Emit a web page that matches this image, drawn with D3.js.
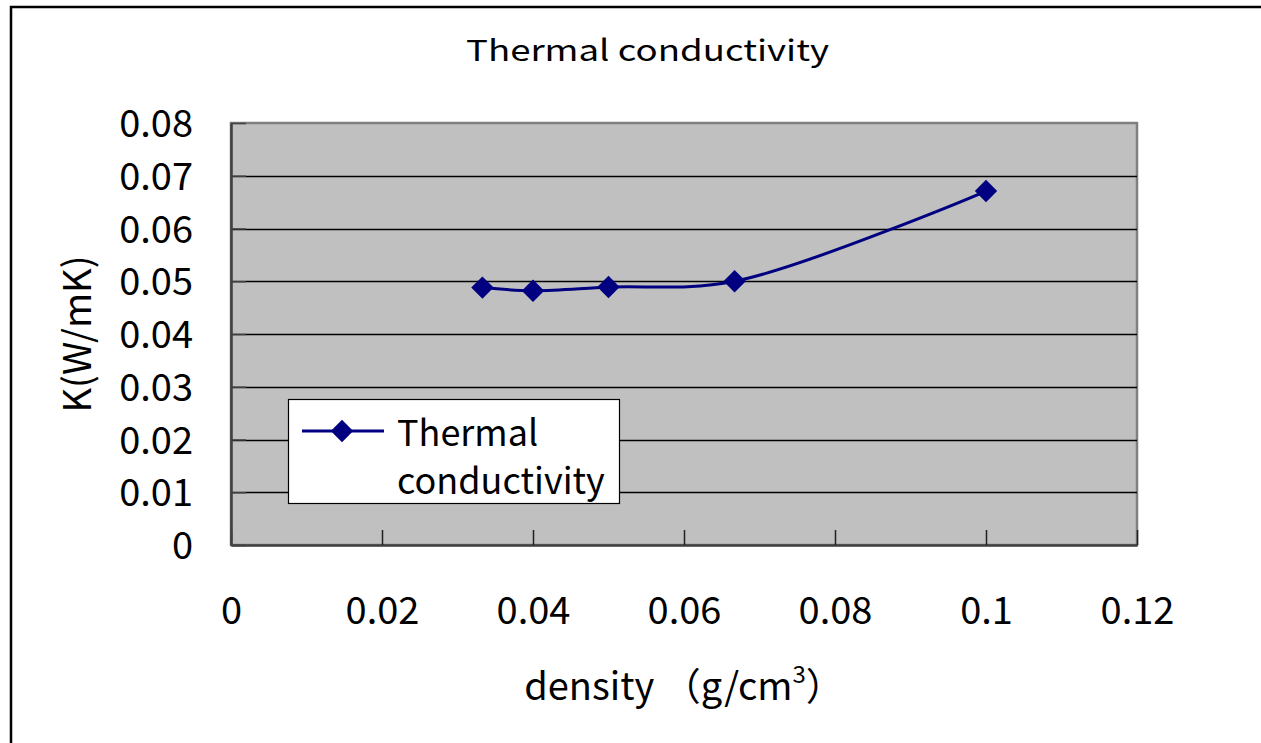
<!DOCTYPE html>
<html>
<head>
<meta charset="utf-8">
<script src="https://cdn.jsdelivr.net/npm/d3@7"></script>
<style>
  html, body { margin: 0; padding: 0; background: #fff; }
  svg { display: block; }
  text { font-family: "Noto Sans CJK JP", "Noto Sans", sans-serif; fill: #000; }
</style>
</head>
<body>
<svg id="chart" width="1261" height="743"></svg>
<script>
// ---- data ----
const seriesName = "Thermal conductivity";
const density = [0.0333, 0.04, 0.05, 0.0667, 0.1];          // g/cm3
const conductivity = [0.0488, 0.0482, 0.0489, 0.0500, 0.0671]; // W/mK
const xTicks = [0, 0.02, 0.04, 0.06, 0.08, 0.1, 0.12];
const yTicks = [0, 0.01, 0.02, 0.03, 0.04, 0.05, 0.06, 0.07, 0.08];
const titleText = "Thermal conductivity";
const xLabel = "density （g/cm";
const yLabel = "K(W/mK)";
const legendLines = ["Thermal", "conductivity"];

const svg = d3.select("#chart");
const W = 1261, H = 743;
const plot = { left: 231, top: 123, right: 1137, bottom: 545 };

const x = d3.scaleLinear().domain([0, 0.12]).range([plot.left, plot.right]);
const y = d3.scaleLinear().domain([0, 0.08]).range([plot.bottom, plot.top]);

// outer chart border (extends beyond viewport at right/bottom)
svg.append("rect")
  .attr("x", 11).attr("y", 7).attr("width", W + 20).attr("height", H + 20)
  .attr("fill", "#fff").attr("stroke", "#000").attr("stroke-width", 2.5);

// plot area
svg.append("rect")
  .attr("x", plot.left).attr("y", plot.top)
  .attr("width", plot.right - plot.left).attr("height", plot.bottom - plot.top)
  .attr("fill", "#c0c0c0").attr("stroke", "#808080").attr("stroke-width", 2.5);

// gridlines
svg.append("g").selectAll("line")
  .data(yTicks.filter(d => d > 0 && d < 0.08))
  .join("line")
  .attr("x1", plot.left).attr("x2", plot.right)
  .attr("y1", d => Math.round(y(d)) + 0.5).attr("y2", d => Math.round(y(d)) + 0.5)
  .attr("stroke", "#000").attr("stroke-width", 1.6);

// axes
const fmt = d => d === 0 ? "0" : String(+d.toFixed(2));
const xAxis = d3.axisBottom(x).tickValues(xTicks).tickFormat(fmt).tickSizeInner(-15).tickSizeOuter(0).tickPadding(0);
const yAxis = d3.axisLeft(y).tickValues(yTicks).tickFormat(fmt).tickSizeInner(-15).tickSizeOuter(0).tickPadding(0);

const gx = svg.append("g").attr("transform", `translate(0,${plot.bottom})`).call(xAxis);
gx.select(".domain").attr("stroke", "#404040").attr("stroke-width", 2.5);
gx.selectAll(".tick line").attr("stroke", "#202020").attr("stroke-width", 1.5);
gx.selectAll(".tick text")
  .attr("font-size", 38).attr("y", 79).attr("dy", 0)
  .style("font-family", '"Noto Sans CJK JP", sans-serif');

const gy = svg.append("g").attr("transform", `translate(${plot.left},0)`).call(yAxis);
gy.select(".domain").attr("stroke", "#404040").attr("stroke-width", 2.5);
gy.selectAll(".tick line").attr("stroke", "#404040").attr("stroke-width", 1.5);
gy.selectAll(".tick text")
  .attr("font-size", 38).attr("x", -38).attr("dy", "0.36em")
  .style("font-family", '"Noto Sans CJK JP", sans-serif');
svg.selectAll(".tick text").attr("fill", "#000");

// series line
const pts = density.map((d, i) => [d, conductivity[i]]);
const line = d3.line().x(d => x(d[0])).y(d => y(d[1])).curve(d3.curveCatmullRom.alpha(0.5));
svg.append("path").datum(pts)
  .attr("d", line).attr("fill", "none")
  .attr("stroke", "#000080").attr("stroke-width", 3).attr("stroke-linejoin", "round");

const diamond = d3.symbol().type(d3.symbolDiamond2).size(320);
svg.append("g").selectAll("path")
  .data(pts).join("path")
  .attr("transform", d => `translate(${x(d[0])},${y(d[1])})`)
  .attr("d", diamond).attr("fill", "#000080");

// title
svg.append("text")
  .attr("x", 647.5).attr("y", 61).attr("text-anchor", "middle")
  .attr("font-size", 29).attr("textLength", 363).attr("lengthAdjust", "spacingAndGlyphs")
  .text(titleText);

// x axis label with superscript 3
const xl = svg.append("text")
  .attr("x", 684).attr("y", 700).attr("text-anchor", "middle")
  .attr("font-size", 38);
xl.append("tspan").text(xLabel);
xl.append("tspan").attr("font-size", 24).attr("dy", -17).text("3");
xl.append("tspan").attr("dy", 17).text("）");

// y axis label
svg.append("text")
  .attr("transform", "translate(91,334) rotate(-90)")
  .attr("text-anchor", "middle").attr("font-size", 38)
  .text(yLabel);

// legend
const lg = svg.append("g");
lg.append("rect")
  .attr("x", 288.5).attr("y", 399.5).attr("width", 331).attr("height", 104)
  .attr("fill", "#fff").attr("stroke", "#000").attr("stroke-width", 1.2);
lg.append("line")
  .attr("x1", 302).attr("x2", 384).attr("y1", 431).attr("y2", 431)
  .attr("stroke", "#000080").attr("stroke-width", 3);
lg.append("path")
  .attr("transform", "translate(342,431)")
  .attr("d", diamond).attr("fill", "#000080");
lg.selectAll("text.leg")
  .data(legendLines).join("text")
  .attr("class", "leg")
  .attr("x", 397).attr("y", (d, i) => 446 + i * 48)
  .attr("font-size", 36)
  .text(d => d);
</script>
</body>
</html>
